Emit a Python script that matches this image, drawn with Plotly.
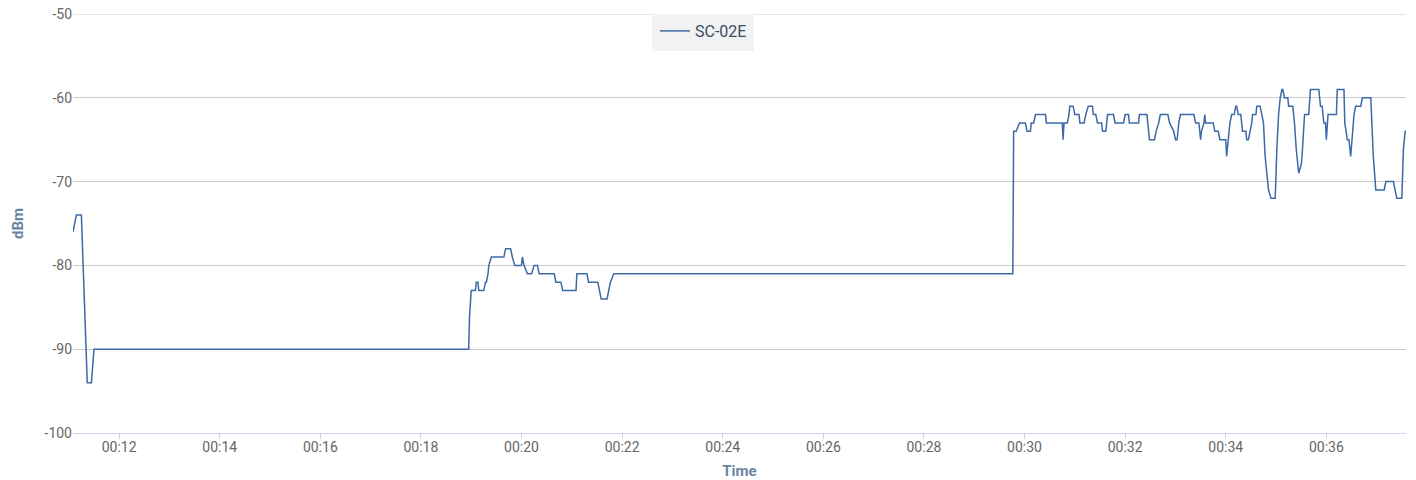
import plotly.graph_objects as go

series_name = "SC-02E"
times = [
    "00:11:05", "00:11:07", "00:11:09", "00:11:15", "00:11:22", "00:11:27", "00:11:30",
    "00:18:57", "00:18:58", "00:19:00", "00:19:05", "00:19:06", "00:19:08", "00:19:09",
    "00:19:15", "00:19:17", "00:19:18", "00:19:20", "00:19:21", "00:19:24", "00:19:39",
    "00:19:41", "00:19:47", "00:19:49", "00:19:52", "00:20:00", "00:20:01", "00:20:03",
    "00:20:07", "00:20:12", "00:20:15", "00:20:19", "00:20:21", "00:20:39", "00:20:41",
    "00:20:47", "00:20:49", "00:21:05", "00:21:06", "00:21:18", "00:21:20", "00:21:31",
    "00:21:33", "00:21:35", "00:21:42", "00:21:44", "00:21:46", "00:21:50",
    "00:29:46", "00:29:47", "00:29:50", "00:29:54", "00:30:01", "00:30:03", "00:30:07",
    "00:30:08", "00:30:11", "00:30:13", "00:30:25", "00:30:26", "00:30:45", "00:30:46",
    "00:30:47", "00:30:51", "00:30:53", "00:30:54", "00:30:58", "00:31:00", "00:31:05",
    "00:31:06", "00:31:11", "00:31:13", "00:31:16", "00:31:21", "00:31:22", "00:31:25",
    "00:31:27", "00:31:32", "00:31:33", "00:31:37", "00:31:39", "00:31:46", "00:31:48",
    "00:31:58", "00:32:00", "00:32:04", "00:32:05", "00:32:16", "00:32:17", "00:32:26",
    "00:32:27", "00:32:29", "00:32:35", "00:32:37", "00:32:40", "00:32:42", "00:32:51",
    "00:32:53", "00:32:58", "00:33:00", "00:33:02", "00:33:04", "00:33:06", "00:33:22",
    "00:33:24", "00:33:28", "00:33:30", "00:33:31", "00:33:34", "00:33:35", "00:33:36",
    "00:33:45", "00:33:47", "00:33:51", "00:33:53", "00:34:00", "00:34:01", "00:34:04",
    "00:34:05", "00:34:07", "00:34:10", "00:34:12", "00:34:13", "00:34:15", "00:34:18",
    "00:34:20", "00:34:24", "00:34:25", "00:34:27", "00:34:29", "00:34:31", "00:34:32",
    "00:34:36", "00:34:37", "00:34:41", "00:34:43", "00:34:45", "00:34:47", "00:34:51",
    "00:34:54", "00:34:59", "00:35:01", "00:35:03", "00:35:05", "00:35:07", "00:35:08",
    "00:35:10", "00:35:14", "00:35:15", "00:35:20", "00:35:22", "00:35:24", "00:35:27",
    "00:35:30", "00:35:31", "00:35:34", "00:35:39", "00:35:41", "00:35:51", "00:35:53",
    "00:35:55", "00:35:57", "00:35:59", "00:36:00", "00:36:02", "00:36:12", "00:36:13",
    "00:36:21", "00:36:22", "00:36:25", "00:36:27", "00:36:29", "00:36:33", "00:36:35",
    "00:36:41", "00:36:43", "00:36:53", "00:36:56", "00:36:59", "00:37:09", "00:37:11",
    "00:37:20", "00:37:22", "00:37:24", "00:37:30", "00:37:32", "00:37:34", "00:37:35",
]
values = [
    -76, -75, -74, -74, -94, -94, -90,
    -90, -86, -83, -83, -82, -82, -83,
    -83, -82, -82, -81, -80, -79, -79,
    -78, -78, -79, -80, -80, -79, -80,
    -81, -81, -80, -80, -81, -81, -82,
    -82, -83, -83, -81, -81, -82, -82,
    -83, -84, -84, -83, -82, -81,
    -81, -64, -64, -63, -63, -64, -64,
    -63, -63, -62, -62, -63, -63, -65,
    -63, -63, -62, -61, -61, -62, -62,
    -63, -63, -62, -61, -61, -62, -62,
    -63, -63, -64, -64, -62, -62, -63,
    -63, -62, -62, -63, -63, -62, -62,
    -63, -65, -65, -64, -63, -62, -62,
    -63, -64, -65, -65, -63, -62, -62,
    -63, -63, -65, -64, -63, -62, -63,
    -63, -64, -64, -65, -65, -67, -64,
    -63, -62, -62, -61, -61, -62, -62,
    -64, -64, -65, -65, -64, -63, -62,
    -62, -61, -61, -62, -63, -67, -71,
    -72, -72, -66, -62, -60, -59, -59,
    -60, -60, -61, -61, -63, -66, -69,
    -68, -67, -62, -62, -59, -59, -61,
    -61, -63, -63, -65, -62, -62, -59,
    -59, -63, -65, -65, -67, -62, -61,
    -61, -60, -60, -67, -71, -71, -70,
    -70, -71, -72, -72, -66, -64, -64,
]
y_ticks = [-50, -60, -70, -80, -90, -100]
y_tick_text = ["-50", "-60", "-70", "-80", "-90", "-100"]
x_title = "Time"
y_title = "dBm"

day = "2024-01-01 "
x = [day + t for t in times]

fig = go.Figure()
fig.add_trace(go.Scatter(
    x=x, y=values, mode="lines", name=series_name,
    line=dict(color="#3d69a6", width=1.5),
    showlegend=True, hoverinfo="skip",
))

W, H = 1416, 480
ML, MR, MT, MB = 73, 10, 14, 47
PW, PH = W - ML - MR, H - MT - MB

font_family = "Roboto, sans-serif"

# top gridline (plotly drops gridlines sitting on the plot edge)
fig.add_shape(type="line", xref="paper", yref="y", x0=0, x1=1,
              y0=max(y_ticks), y1=max(y_ticks),
              line=dict(color="#cccccc", width=1), layer="below")
# legend box background
lx0, lx1, lh = 652, 754, 37
fig.add_shape(type="rect", xref="paper", yref="paper",
              x0=(lx0 - ML) / PW, x1=(lx1 - ML) / PW, y0=1 - lh / PH, y1=1,
              fillcolor="#f2f2f2", line=dict(width=0), layer="above")

fig.update_layout(
    width=W, height=H,
    margin=dict(l=ML, r=MR, t=MT, b=MB),
    paper_bgcolor="white", plot_bgcolor="white",
    font=dict(family=font_family, size=14, color="#666666"),
    showlegend=True,
    legend=dict(
        x=(655 - ML) / PW, y=1, xanchor="left", yanchor="top",
        bgcolor="rgba(0,0,0,0)", borderwidth=0,
        font=dict(family=font_family, size=16, color="#3a4b61"),
        itemwidth=30,
    ),
    xaxis=dict(
        type="date", automargin=False,
        range=[day + times[0], day + times[-1]],
        tick0=day + "00:12:00", dtick=120000,
        tickformat="%H:%M",
        showgrid=False,
        showline=True, linecolor="#ccd6eb", linewidth=1,
        ticks="outside", ticklen=5, tickcolor="#ccd6eb", tickwidth=1,
        ticklabelstandoff=-4,
        tickfont=dict(size=14, color="#666666"),
        title=dict(text="<b>" + x_title + "</b>", font=dict(size=15, color="#6a84a4"), standoff=11),
        zeroline=False,
    ),
    yaxis=dict(
        automargin=False,
        range=[min(y_ticks), max(y_ticks)],
        tickvals=y_ticks, ticktext=y_tick_text,
        showgrid=True, gridcolor="#cccccc", gridwidth=1,
        showline=False, zeroline=False,
        ticks="", ticklabelstandoff=0,
        tickfont=dict(size=14, color="#666666"),
        title=dict(text="<b>" + y_title + "</b>", font=dict(size=15, color="#6a84a4"), standoff=17),
    ),
)

fig.write_html("out.html", config={"displayModeBar": False},
               post_script="document.body.style.margin='0';document.body.style.overflow='hidden';")
